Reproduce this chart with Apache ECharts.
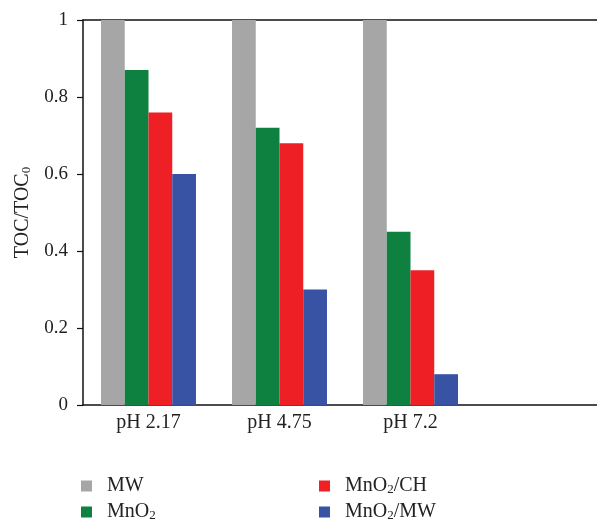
<!DOCTYPE html>
<html>
<head>
<meta charset="utf-8">
<script src="https://cdn.jsdelivr.net/npm/echarts@6/dist/echarts.min.js"></script>
<style>
  html, body { margin: 0; padding: 0; background: #fff; }
  #main { width: 597px; height: 521px; }
</style>
</head>
<body>
<div id="main"></div>
<script>
const categories = ['pH 2.17', 'pH 4.75', 'pH 7.2'];
const mw = [1, 1, 1];
const mno2 = [0.87, 0.72, 0.45];
const mno2Ch = [0.76, 0.68, 0.35];
const mno2Mw = [0.6, 0.3, 0.08];
const yTicks = { min: 0, max: 1, interval: 0.2 };

const font = 'Liberation Serif';
const subRich = {
  sub: { fontFamily: font, fontSize: 13, lineHeight: 8, verticalAlign: 'bottom', color: '#222' }
};
const names = {
  'MW': 'MW',
  'MnO2': 'MnO{sub|2}',
  'MnO2/CH': 'MnO{sub|2}/CH',
  'MnO2/MW': 'MnO{sub|2}/MW'
};

const chart = echarts.init(document.getElementById('main'));

function legendAt(left, data) {
  return {
    data: data,
    orient: 'vertical',
    left: left,
    top: 476,
    height: 80,
    padding: 0,
    itemWidth: 11,
    itemHeight: 11,
    itemGap: 6,
    icon: 'rect',
    formatter: n => names[n],
    textStyle: {
      fontFamily: font, fontSize: 20, color: '#222',
      padding: [0, 0, 0, 10],
      rich: subRich
    }
  };
}

const bar = (name, data, color) => ({
  name: name,
  type: 'bar',
  data: data,
  barGap: '0%',
  barCategoryGap: '27.5%',
  itemStyle: { color: color }
});

chart.setOption({
  animation: false,
  legend: [
    legendAt(81, ['MW', 'MnO2']),
    legendAt(319, ['MnO2/CH', 'MnO2/MW'])
  ],
  grid: [
    { left: 83, right: 121, top: 20, bottom: 116 },
    { left: 83, right: 0, top: 20, bottom: 116 }
  ],
  xAxis: [
    {
      type: 'category', data: categories, gridIndex: 0,
      axisLine: { show: false },
      axisTick: { show: false },
      axisLabel: { fontFamily: font, fontSize: 20, color: '#222', margin: 8 }
    },
    {
      type: 'value', gridIndex: 1, position: 'bottom', min: 0, max: 1,
      axisLine: { show: true, lineStyle: { color: '#111', width: 1.5 } },
      axisTick: { show: false }, axisLabel: { show: false }, splitLine: { show: false }
    },
    {
      type: 'value', gridIndex: 1, position: 'top', min: 0, max: 1,
      axisLine: { show: true, lineStyle: { color: '#111', width: 1.5 } },
      axisTick: { show: false }, axisLabel: { show: false }, splitLine: { show: false }
    }
  ],
  yAxis: [
    {
      type: 'value', gridIndex: 0,
      min: yTicks.min, max: yTicks.max, interval: yTicks.interval,
      name: 'TOC/TOC{sub|0}',
      nameLocation: 'middle',
      nameGap: 50,
      nameTextStyle: { fontFamily: font, fontSize: 20, color: '#222', rich: subRich },
      axisLine: { show: true, lineStyle: { color: '#111', width: 1.5 } },
      axisTick: { show: true, length: 6, lineStyle: { color: '#111', width: 1.2 } },
      axisLabel: { fontFamily: font, fontSize: 19, color: '#222', margin: 15 },
      splitLine: { show: false }
    },
    { type: 'value', gridIndex: 1, show: false, min: 0, max: 1 }
  ],
  series: [
    bar('MW', mw, '#a6a6a6'),
    bar('MnO2', mno2, '#0e8040'),
    bar('MnO2/CH', mno2Ch, '#ee1f25'),
    bar('MnO2/MW', mno2Mw, '#3953a4')
  ]
});
</script>
</body>
</html>
